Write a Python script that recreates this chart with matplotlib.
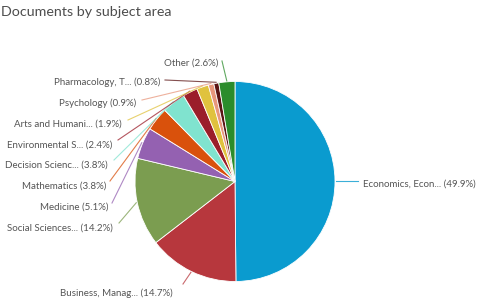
import matplotlib
matplotlib.use("Agg")
import matplotlib.pyplot as plt
import math

plt.rcParams['font.family'] = ['Lato', 'DejaVu Sans']

categories = ["Economics, Econ...", "Business, Manag...", "Social Sciences...", "Medicine",
              "Mathematics", "Decision Scienc...", "Environmental S...", "Arts and Humani...",
              "Psychology", "Pharmacology, T...", "Other"]
values = [49.9, 14.7, 14.2, 5.1, 3.8, 3.8, 2.4, 1.9, 0.9, 0.8, 2.6]
colors = ["#0a9bcf", "#b7373d", "#7b9d50", "#9461b1", "#d9510c", "#80e3cf",
          "#9b1e2a", "#e0c23e", "#e8977c", "#5b1414", "#2b8c2b"]

# label anchor positions (pixels): (x, y, ha)
label_pos = [(363, 184, 'left'), (173, 293, 'right'), (113, 228, 'right'), (108, 207, 'right'),
             (106, 186, 'right'), (108, 165, 'right'), (112, 145, 'right'), (122, 124, 'right'),
             (136, 103, 'right'), (160, 82, 'right'), (218, 63, 'right')]
line_start = [(338, 181), (183, 284), (119, 223), (112, 203), (110, 181), (114, 160),
              (118, 140), (128, 120), (142, 100), (165, 80), (222, 61)]

fig = plt.figure(figsize=(4.8, 3.04), dpi=100)
ax = fig.add_axes([0, 0, 1, 1])
cx, cy, R = 235, 181.5, 100
wedges, _ = ax.pie(values, colors=colors, center=(cx, cy), radius=R, startangle=-90,
                   counterclock=True, wedgeprops=dict(edgecolor='white', linewidth=0.6))
ax.set_xlim(0, 480)
ax.set_ylim(304, 0)
ax.set_aspect('auto')
ax.axis('off')

for i, (w, cat, val) in enumerate(zip(wedges, categories, values)):
    mid = math.radians((w.theta1 + w.theta2) / 2)
    ex, ey = cx + R * 1.01 * math.cos(mid), cy + R * 1.01 * math.sin(mid)
    sx, sy = line_start[i]
    if i == 0:
        ax.plot([ex, 358], [ey, ey], color=colors[i], lw=0.8, alpha=0.8)
    else:
        ax.plot([sx, ex], [sy, ey], color=colors[i], lw=0.8, alpha=0.75)
    x, y, ha = label_pos[i]
    ax.text(x, y, f"{cat} ({val}%)", ha=ha, va='center', fontsize=7.0, color='#555555')

fig.text(1 / 480, 1 - 12 / 304, "Documents by subject area", ha='left', va='center',
         fontsize=10.3, color='#4d4d4d')

fig.savefig("out.png", dpi=100, facecolor='white')
